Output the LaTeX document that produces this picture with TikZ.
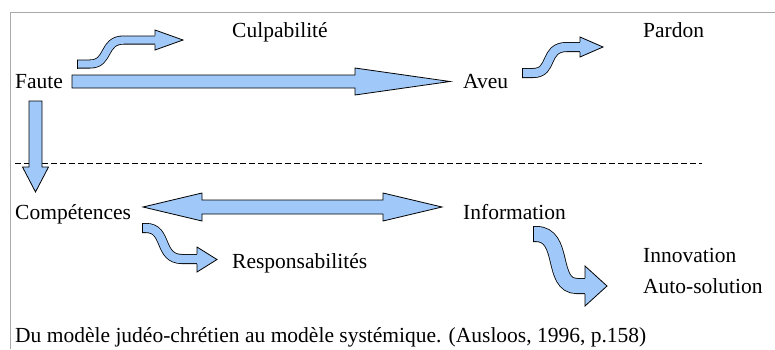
\documentclass[tikz,border=0pt]{standalone}
\usepackage{fontspec}
\setmainfont{Liberation Serif}
\newfontfamily\timesf{Liberation Serif}
\definecolor{arrowfill}{RGB}{160,200,248}
\definecolor{framegray}{RGB}{170,170,170}
\begin{document}
\begin{tikzpicture}[x=1pt,y=-1pt,
  lbl/.style={anchor=base west,inner sep=0pt,font=\fontsize{21.5}{25}\selectfont\timesf},
  blockarrow/.style={fill=arrowfill,draw=black,line width=0.8pt,line join=miter},
  band/.style={draw=black,line width=0.8pt,double=arrowfill,double distance=#1,line cap=butt}]
\useasboundingbox (0,0) rectangle (775,349);
% frame
\draw[framegray,line width=0.8pt] (10,349) -- (10,12) -- (775,12);
% dashed separator
\coordinate (dashL) at (15,163);
\coordinate (dashR) at (702,163);
\draw[black,line width=0.9pt,dash pattern=on 6pt off 3pt] (dashL) -- (dashR);
% big arrow Faute -> Aveu
\draw[blockarrow] (72,75) -- (355,75) -- (355,68) -- (450,81.5) -- (355,95) -- (355,88) -- (72,88) -- cycle;
% down arrow from Faute
\draw[blockarrow] (29,101) -- (42,101) -- (42,167) -- (48.5,167) -- (35.5,192) -- (22.5,167) -- (29,167) -- cycle;
% double arrow Competences <-> Information
\draw[blockarrow] (143,207) -- (202,193) -- (202,200) -- (383,200) -- (383,193) -- (442,207)
  -- (383,221) -- (383,214) -- (202,214) -- (202,221) -- cycle;
% curved arrow to Culpabilite
\draw[band=7.4pt] (77,64) -- (90,64) .. controls (110,64) and (102,40) .. (124,40) -- (155.5,40);
\draw[line width=0.8pt] (77,59.5) -- (77,68.5);
\fill[arrowfill] (155,35.5) -- (155,30) -- (183,40) -- (155,50) -- (155,44.5) -- cycle;
\draw[line width=0.8pt,line join=miter] (155,35.5) -- (155,30) -- (183,40) -- (155,50) -- (155,44.5);
% curved arrow to Pardon
\draw[band=8.4pt] (522,73) -- (533,73) .. controls (554,73) and (543,47) .. (567,47) -- (580.5,47);
\draw[line width=0.8pt] (522,68) -- (522,78);
\fill[arrowfill] (580,42) -- (580,37) -- (603,47) -- (580,57) -- (580,52) -- cycle;
\draw[line width=0.8pt,line join=miter] (580,42) -- (580,37) -- (603,47) -- (580,57) -- (580,52);
% curved arrow to Responsabilites
\draw[band=8.4pt] (142,228) -- (146,228) .. controls (168,228) and (158,259) .. (182,259) -- (197.5,259);
\draw[line width=0.8pt] (142,223) -- (142,233);
\fill[arrowfill] (197,254) -- (197,247) -- (217,259.5) -- (197,272) -- (197,264) -- cycle;
\draw[line width=0.8pt,line join=miter] (197,254) -- (197,247) -- (217,259.5) -- (197,272) -- (197,264);
% curved arrow to Innovation
\draw[band=14.4pt] (533,234) -- (536,234) .. controls (566,234) and (550,286) .. (577,286) -- (585.5,286);
\draw[line width=0.8pt] (533,226) -- (533,242);
\fill[arrowfill] (585,278) -- (585,266) -- (607,286) -- (585,306) -- (585,294) -- cycle;
\draw[line width=0.8pt,line join=miter] (585,278) -- (585,266) -- (607,286) -- (585,306) -- (585,294);
% labels
\node[lbl] (faute) at (15,88) {Faute};
\node[lbl] (culp) at (232,37) {Culpabilité};
\node[lbl] (pardon) at (643,37) {Pardon};
\node[lbl] (aveu) at (463,88) {Aveu};
\node[lbl] (comp) at (15,219) {Compétences};
\node[lbl] (info) at (463,219) {Information};
\node[lbl] (resp) at (232,268) {Responsabilités};
\node[lbl] (innov) at (643,262) {Innovation};
\node[lbl] (auto) at (643,293) {Auto-solution};
\node[lbl] (caption) at (15,342) {Du modèle judéo-chrétien au modèle systémique. (Ausloos, 1996, p.158)};
\end{tikzpicture}
\end{document}
